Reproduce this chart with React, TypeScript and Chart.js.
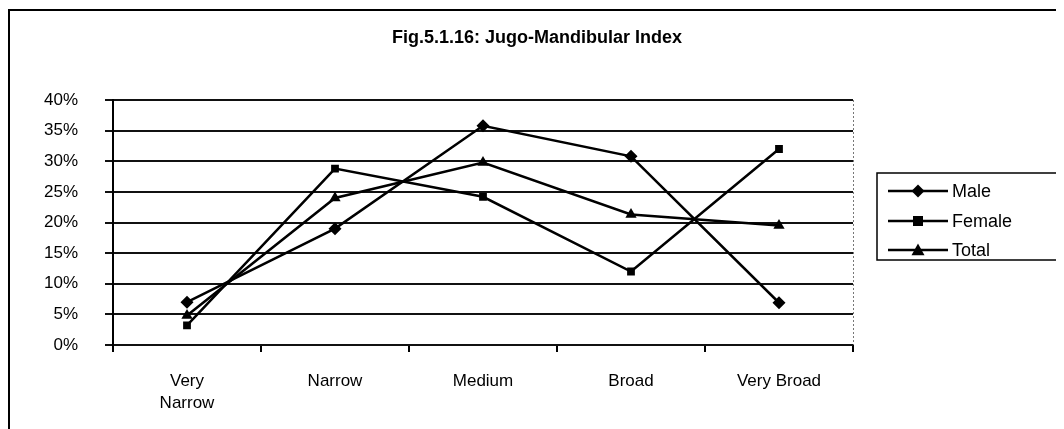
import React, { useEffect, useRef } from "react";
import { Chart, registerables } from "chart.js";

Chart.register(...registerables);

const TITLE = "Fig.5.1.16: Jugo-Mandibular Index";
const categories: (string | string[])[] = [["Very", "Narrow"], "Narrow", "Medium", "Broad", "Very Broad"];
const maleValues = [7.0, 19.0, 35.8, 30.8, 6.9];
const femaleValues = [3.2, 28.8, 24.2, 12.0, 32.0];
const totalValues = [4.8, 24.0, 29.8, 21.3, 19.5];
const seriesNames = ["Male", "Female", "Total"];
const seriesMarkers = ["rectRot", "rect", "triangle"];

const FONT = "'Liberation Sans', Arial, sans-serif";

function drawMarker(ctx: CanvasRenderingContext2D, style: string, x: number, y: number) {
  ctx.beginPath();
  if (style === "rectRot") {
    const r = 6.5;
    ctx.moveTo(x, y - r);
    ctx.lineTo(x + r, y);
    ctx.lineTo(x, y + r);
    ctx.lineTo(x - r, y);
  } else if (style === "rect") {
    const r = 5;
    ctx.rect(x - r, y - r, 2 * r, 2 * r);
  } else {
    const r = 6.5;
    ctx.moveTo(x, y - r);
    ctx.lineTo(x + r, y + r * 0.8);
    ctx.lineTo(x - r, y + r * 0.8);
  }
  ctx.closePath();
  ctx.fill();
}

const decorPlugin = {
  id: "decor",
  beforeDraw(chart: any) {
    const ctx = chart.ctx as CanvasRenderingContext2D;
    ctx.save();
    ctx.fillStyle = "#fff";
    ctx.fillRect(0, 0, chart.width, chart.height);
    ctx.restore();
  },
  afterDraw(chart: any) {
    const ctx = chart.ctx as CanvasRenderingContext2D;
    const a = chart.chartArea;
    ctx.save();
    // outer frame (top and left)
    ctx.strokeStyle = "#000";
    ctx.lineWidth = 2;
    ctx.beginPath();
    ctx.moveTo(1, chart.height);
    ctx.lineTo(1, 2);
    ctx.lineTo(chart.width, 2);
    ctx.stroke();
    // right border of plot area (dotted)
    ctx.strokeStyle = "#777";
    ctx.lineWidth = 1;
    ctx.setLineDash([2, 2]);
    ctx.beginPath();
    ctx.moveTo(a.right + 0.5, a.top);
    ctx.lineTo(a.right + 0.5, a.bottom);
    ctx.stroke();
    ctx.setLineDash([]);
    // title
    ctx.fillStyle = "#000";
    ctx.font = "bold 18px " + FONT;
    ctx.textAlign = "center";
    ctx.textBaseline = "middle";
    ctx.fillText(TITLE, 529, 30);
    // legend
    const bx = 869, by = 165, bw = 186, bh = 87;
    ctx.strokeStyle = "#000";
    ctx.lineWidth = 1.5;
    ctx.strokeRect(bx, by, bw, bh);
    const rows = [183, 213, 242];
    ctx.font = "18px " + FONT;
    ctx.textAlign = "left";
    seriesNames.forEach((name, i) => {
      const y = rows[i];
      ctx.lineWidth = 2.5;
      ctx.beginPath();
      ctx.moveTo(880, y);
      ctx.lineTo(940, y);
      ctx.stroke();
      drawMarker(ctx, seriesMarkers[i], 910, y);
      ctx.fillText(name, 944, y + 1);
    });
    ctx.restore();
  },
};

export default function App() {
  const canvasRef = useRef<HTMLCanvasElement | null>(null);

  useEffect(() => {
    if (!canvasRef.current) return;
    const mk = (label: string, data: number[], style: string, radius: number) => ({
      label,
      data,
      borderColor: "#000",
      backgroundColor: "#000",
      borderWidth: 2.5,
      pointStyle: style,
      pointRadius: radius,
      pointBorderWidth: 0,
      pointBackgroundColor: "#000",
      tension: 0,
    });
    const chart = new Chart(canvasRef.current, {
      type: "line",
      data: {
        labels: categories,
        datasets: [
          mk(seriesNames[0], maleValues, "rectRot", 6.5),
          mk(seriesNames[1], femaleValues, "rect", 5.5),
          mk(seriesNames[2], totalValues, "triangle", 6.5),
        ],
      },
      options: {
        responsive: false,
        animation: false,
        devicePixelRatio: 1,
        layout: { padding: { top: 92, right: 211, left: 0, bottom: 0 } },
        plugins: {
          legend: { display: false },
          title: { display: false },
          tooltip: { enabled: false },
        },
        scales: {
          x: {
            offset: true,
            afterFit: (s: any) => {
              s.height = 84;
            },
            grid: {
              offset: true,
              drawOnChartArea: false,
              drawTicks: true,
              tickLength: 7,
              color: "#000",
              lineWidth: 2,
            },
            border: { display: false },
            ticks: {
              color: "#000",
              font: { family: FONT, size: 17, lineHeight: 1.3 },
              padding: 18,
              maxRotation: 0,
              autoSkip: false,
            },
          },
          y: {
            min: 0,
            max: 40,
            afterFit: (s: any) => {
              s.width = 105;
            },
            grid: {
              color: "#111",
              lineWidth: 2,
              tickLength: 8,
              drawTicks: true,
            },
            border: { display: true, color: "#000", width: 2 },
            ticks: {
              stepSize: 5,
              color: "#000",
              font: { family: FONT, size: 17 },
              padding: 27,
              callback: (v: any) => v + "%",
            },
          },
        },
      },
      plugins: [decorPlugin],
    } as any);
    return () => chart.destroy();
  }, []);

  return (
    <div style={{ width: 1056, height: 421, marginRight: -8 }}>
      <canvas ref={canvasRef} width={1056} height={421} style={{ display: "block", width: 1056, height: 421 }} />
    </div>
  );
}
